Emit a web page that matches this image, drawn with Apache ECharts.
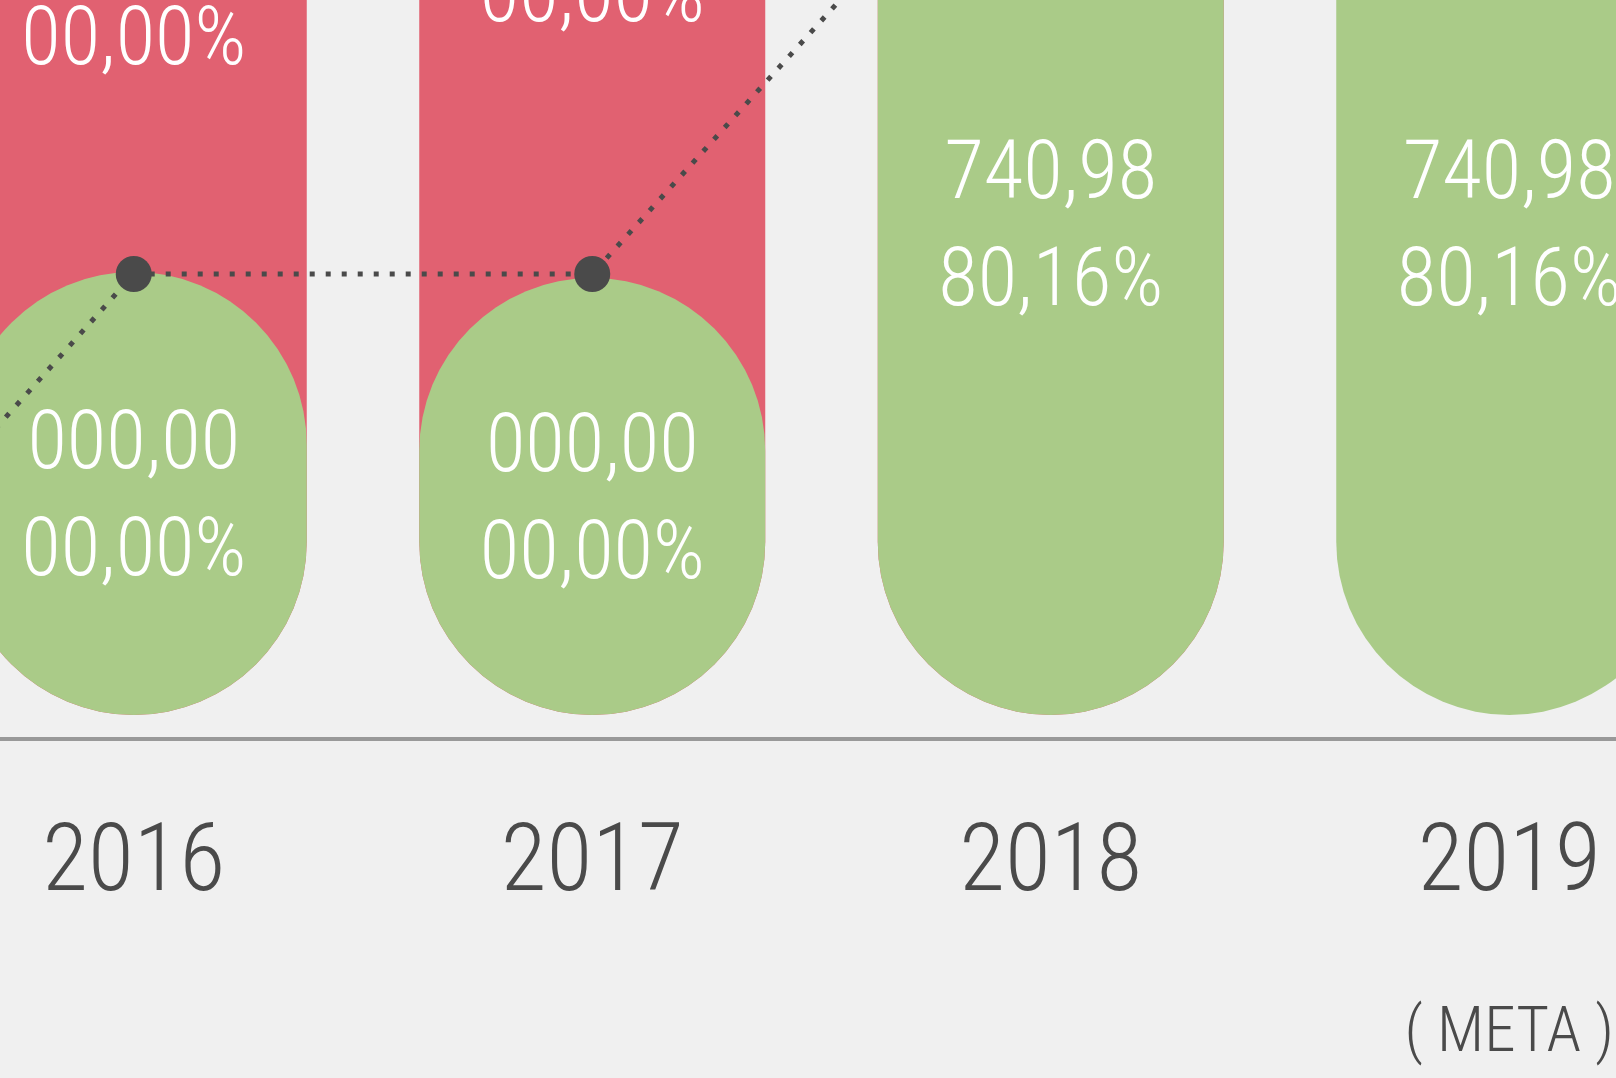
<!DOCTYPE html>
<html>
<head>
<meta charset="utf-8">
<title>Chart</title>
<script src="https://cdn.jsdelivr.net/npm/echarts@6/dist/echarts.min.js"></script>
<style>
  html, body { margin: 0; padding: 0; background: #f0f0f0; }
  #chart { width: 1616px; height: 1078px; }
</style>
</head>
<body>
<div id="chart"></div>
<script>
// years (2015 sits off the left edge, only its line point shows)
const years = ['2015', '2016', '2017', '2018', '2019'];
const yearNotes = ['', '', '', '', '( META )'];

// red = meta, green = realizado, dotted line = tendencia
const metaValues = [150, 146.5, 155.2, 90, null];
const realValues = [40, 44.3, 43.7, 98.4, 98.4];
const trendValues = [-7.2, 44.1, 44.1, 94.8, 96];

const metaLabels = ['000,00\n00,00%', '000,00\n00,00%', '000,00\n00,00%', '', ''];
const realLabels = ['000,00\n00,00%', '000,00\n00,00%', '000,00\n00,00%', '740,98\n80,16%', '740,98\n80,16%'];

const FONT = "'Roboto Condensed', 'DejaVu Sans Condensed', sans-serif";
const RED = '#e16171';
const GREEN = '#aacb88';
const DARK = '#4a4a4a';

var myChart = echarts.init(document.getElementById('chart'));

const barLabel = (texts) => ({
  show: true,
  position: 'inside',
  offset: [0, 8],
  formatter: p => texts[p.dataIndex],
  color: '#fff',
  fontSize: 81,
  fontWeight: 300,
  lineHeight: 107,
  fontFamily: FONT
});

myChart.setOption({
  animation: false,
  backgroundColor: '#f0f0f0',
  grid: {
    left: -554,
    width: 2292.5,
    top: 0,
    height: 739,
    containLabel: false,
    outerBoundsMode: 'none'
  },
  xAxis: {
    type: 'category',
    data: years,
    axisTick: {show: false},
    axisLine: {
      onZero: false,
      lineStyle: {color: '#999999', width: 4}
    },
    axisLabel: {
      margin: 72,
      interval: 0,
      formatter(val, idx) {
        let s = '{y|' + val + '}';
        if (yearNotes[idx]) s += '\n{m|' + yearNotes[idx] + '}';
        return s;
      },
      rich: {
        y: {fontSize: 94, lineHeight: 110, color: DARK, fontFamily: FONT, fontWeight: 350},
        m: {fontSize: 63, lineHeight: 228, color: DARK, fontFamily: FONT, fontWeight: 300}
      }
    }
  },
  yAxis: {
    type: 'value',
    show: false,
    min: -2.4,
    max: 71.5,
    splitLine: {show: false}
  },
  series: [
    {
      type: 'bar',
      data: metaValues,
      barWidth: 346,
      barGap: '-100%',
      clip: false,
      itemStyle: {color: RED, borderRadius: [0, 0, 173, 173]},
      label: barLabel(metaLabels)
    },
    {
      type: 'bar',
      data: realValues,
      barWidth: 346,
      barGap: '-100%',
      clip: false,
      itemStyle: {color: GREEN, borderRadius: 173},
      label: barLabel(realLabels)
    },
    {
      type: 'line',
      data: trendValues,
      z: 5,
      symbol: 'circle',
      symbolSize: 36,
      itemStyle: {color: DARK},
      lineStyle: {color: DARK, width: 5, type: [5, 11]}
    }
  ]
});
</script>
</body>
</html>
